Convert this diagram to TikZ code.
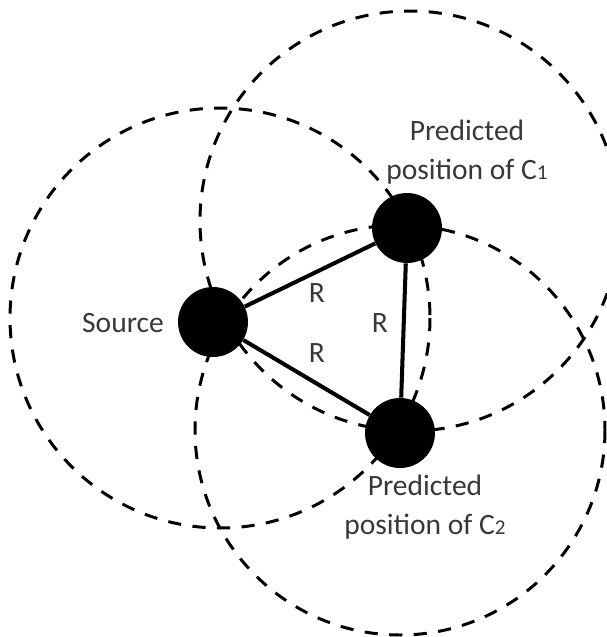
\documentclass[tikz,border=0pt]{standalone}
\usepackage{fontspec}
\setmainfont{Carlito}
\begin{document}
\begin{tikzpicture}[x=0.02cm,y=-0.02cm,line join=round,
	font=\fontsize{16.8}{21.8}\selectfont,
	dot/.style={circle,fill=black,inner sep=0pt,minimum size=1.4cm},
	ring/.style={line width=1.7pt,dash pattern=on 7.5pt off 6.5pt},
	side/.style={line width=2.3pt},
	lbl/.style={text=black!78,inner sep=0pt,align=center}]
		\def\rad{210}
		\path[use as bounding box,clip] (0,0) rectangle (607,637);
		% range circles
		\draw[ring] (220,318) circle (\rad);
		\draw[ring] (410,221) circle (\rad);
		\draw[ring] (400,430) circle (205);
		% source and predicted positions
		\node[dot] (src) at (213,322) {};
		\node[dot] (cone) at (407,228) {};
		\node[dot] (ctwo) at (400,433) {};
		\draw[side] (src)--(cone)--(ctwo)--(src);
		\node[lbl] (srclbl) at (123,323) {Source};
		\node[lbl] (conelbl) at (467,152) {Predicted\\position of C{\fontsize{12}{12}\selectfont 1}};
		\node[lbl] (ctwolbl) at (425,507) {Predicted\\position of C{\fontsize{12}{12}\selectfont 2}};
		\node[lbl] (rone) at (317,293) {R};
		\node[lbl] (rtwo) at (317,353) {R};
		\node[lbl] (rthree) at (380,323) {R};
\end{tikzpicture}
\end{document}
